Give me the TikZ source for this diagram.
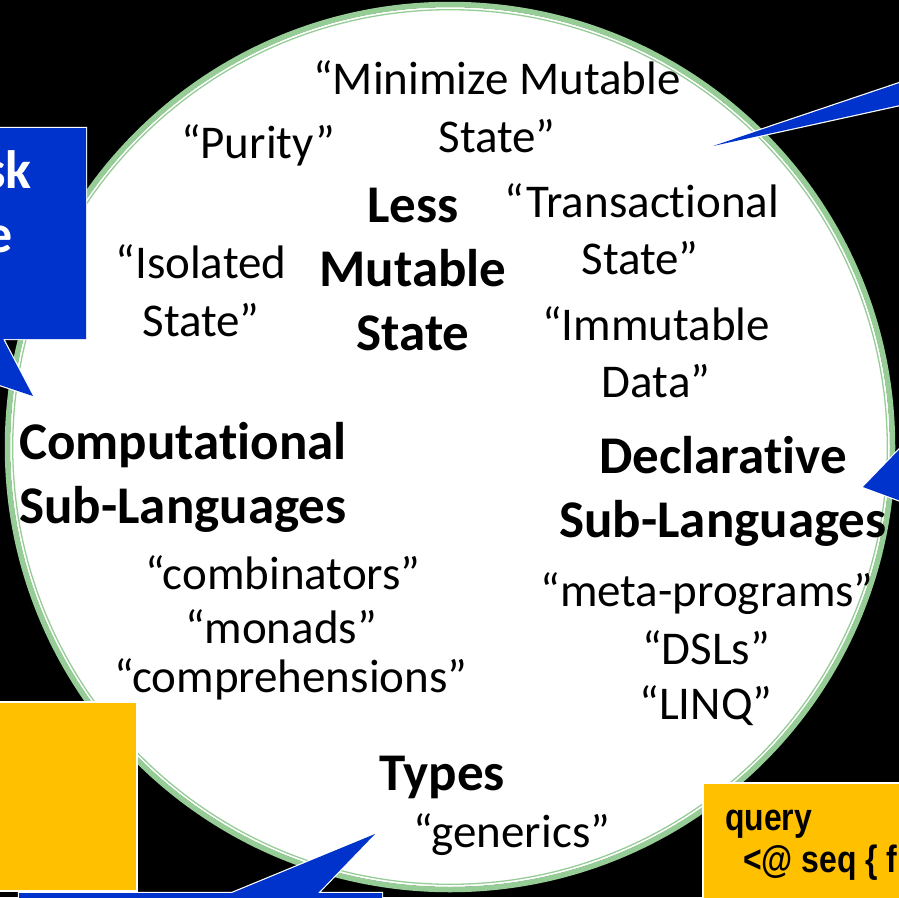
\documentclass[tikz,border=0pt]{standalone}
\usepackage{fontspec}
\usepackage{graphicx}
\setmainfont[Ligatures=NoCommon]{Carlito}
\newfontfamily\codefont{Liberation Sans}
\definecolor{calloutblue}{RGB}{0,51,204}
\definecolor{calloutgold}{RGB}{255,192,0}
\definecolor{ringgreen}{RGB}{150,204,150}

\begin{document}
\begin{tikzpicture}[x=1pt,y=-1pt,
  plain/.style={anchor=base, inner sep=0pt, text=black, font=\fontsize{47}{58}\selectfont},
  heading/.style={anchor=base, inner sep=0pt, text=black, font=\fontsize{53}{63}\selectfont\bfseries},
  bluecallout/.style={draw=white, line width=2.4pt, line join=miter, miter limit=40, postaction={fill=calloutblue}},
  goldbox/.style={fill=calloutgold, draw=white, line width=1.5pt},
  codetext/.style={anchor=base west, inner sep=0pt, text=black, font={\codefont\bfseries\fontsize{38}{43}\selectfont}}]
\useasboundingbox (0,0) rectangle (899,897);
\clip (0,0) rectangle (899,897);
\fill[black] (0,0) rectangle (899,897);

% the ring: white disc with a double green rim
\coordinate (c) at (450,447);
\fill[white] (c) circle (440pt);
\draw[ringgreen, line width=5.5pt] (c) circle (442.5pt);
\draw[ringgreen, line width=1.3pt] (c) circle (437.3pt);

% callouts around the ring
\draw[bluecallout] (-150,128) -- (86,128) -- (86,339) -- (3,339) -- (33,396) -- (-138,339) -- (-150,339) -- cycle;
\node[anchor=base east, inner sep=0pt, text=white, font=\fontsize{54}{64}\selectfont\bfseries] (tl1) at (32,188) {sk};
\node[anchor=base east, inner sep=0pt, text=white, font=\fontsize{54}{64}\selectfont\bfseries] (tl2) at (13,252) {e};

\draw[bluecallout] (713,146) -- (950,66) -- (950,94) -- cycle;
\draw[bluecallout] (863,487) -- (920,428) -- (920,508) -- cycle;

\draw[goldbox] (-10,702) rectangle (137,891);
\draw[bluecallout] (19,893) -- (232,893) -- (375,834) -- (318,893) -- (382,893) -- (382,950) -- (19,950) -- cycle;

\draw[goldbox] (703,783) rectangle (950,950);
\node[codetext] (q1) at (725,830) {\scalebox{0.84}[1]{query}};
\node[codetext] (q2) at (743,872) {\scalebox{0.84}[1]{<@ seq \{ f}};

% texts inside the ring
\node[plain] (mms1) at (497,94) {“Minimize Mutable};
\node[plain] (mms2) at (497,152) {State”};
\node[plain] (pur) at (258,158) {“Purity”};
\node[plain] (tr1) at (642,217) {“Transactional};
\node[plain] (tr2) at (640,274) {State”};
\node[plain] (iso1) at (201,278) {“Isolated};
\node[plain] (iso2) at (201,336) {State”};
\node[heading] (less1) at (413,222) {Less};
\node[heading] (less2) at (413,286) {Mutable};
\node[heading] (less3) at (413,350) {State};
\node[plain] (imm1) at (656,340) {“Immutable};
\node[plain] (imm2) at (656,397) {Data”};
\node[heading, anchor=base west] (cs1) at (19,459) {Computational};
\node[heading, anchor=base west] (cs2) at (19,523) {Sub-Languages};
\node[heading] (ds1) at (723,473) {Declarative};
\node[heading] (ds2) at (723,537) {Sub-Languages};
\node[plain] (cb) at (283,589) {“combinators”};
\node[plain] (mo) at (281,643) {“monads”};
\node[plain] (cp) at (291,692) {“comprehensions”};
\node[plain] (mp) at (707,606) {“meta-programs”};
\node[plain] (dsl) at (706,664) {“DSLs”};
\node[plain] (lq) at (706,719) {“LINQ”};
\node[heading] (ty) at (442,790) {Types};
\node[plain] (gen) at (512,847) {“generics”};
\end{tikzpicture}
\end{document}
